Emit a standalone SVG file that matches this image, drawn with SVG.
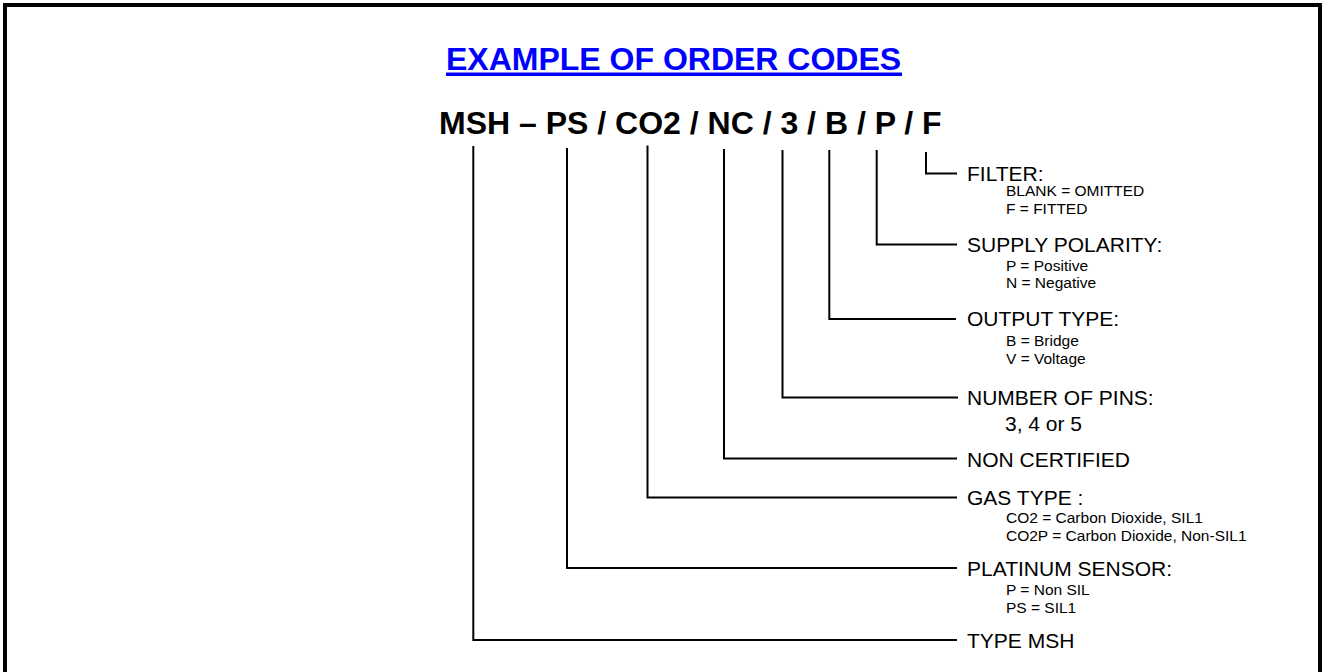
<svg xmlns="http://www.w3.org/2000/svg" width="1323" height="672" viewBox="0 0 1323 672">
<style>
text{font-family:"Liberation Sans",Arial,sans-serif;fill:#000}
.t{font-size:32px;font-weight:bold}
.title{fill:#0000FF}
.lbl{font-size:21px}
.sub{font-size:15.5px}
.big{font-size:21px}
.ln{fill:none;stroke:#000;stroke-width:2}
</style>
<rect x="0" y="0" width="1323" height="672" fill="#fff"/>
<path d="M5,690 V5 H1320 V690" fill="none" stroke="#000" stroke-width="4"/>
<g id="title">
<text class="t title" x="446" y="70">EXAMPLE OF ORDER CODES</text>
<rect x="446" y="72.5" width="456" height="3.5" fill="#0000FF"/>
</g>
<g id="code">
<text class="t" x="439" y="134">MSH – PS / CO2 / NC / 3 / B / P / F</text>
</g>
<g id="connectors">
<path class="ln" d="M926,152 V173.5 H957"/>
<path class="ln" d="M876.7,150 V244.5 H957"/>
<path class="ln" d="M829.3,150 V319 H956"/>
<path class="ln" d="M782.5,150 V397.5 H958"/>
<path class="ln" d="M724,149 V458.5 H957"/>
<path class="ln" d="M647.5,145.5 V497.5 H957"/>
<path class="ln" d="M567,148 V568 H957"/>
<path class="ln" d="M473.3,146 V640 H957"/>
</g>
<g id="filter">
<text class="lbl" x="967" y="181">FILTER:</text>
<text class="sub" x="1006" y="196">BLANK = OMITTED</text>
<text class="sub" x="1006" y="214">F = FITTED</text>
</g>
<g id="supply-polarity">
<text class="lbl" x="967" y="252">SUPPLY POLARITY:</text>
<text class="sub" x="1006" y="271">P = Positive</text>
<text class="sub" x="1006" y="288">N = Negative</text>
</g>
<g id="output-type">
<text class="lbl" x="967" y="326">OUTPUT TYPE:</text>
<text class="sub" x="1006" y="346">B = Bridge</text>
<text class="sub" x="1006" y="363.5">V = Voltage</text>
</g>
<g id="number-of-pins">
<text class="lbl" x="967" y="405">NUMBER OF PINS:</text>
<text class="big" x="1005" y="431">3, 4 or 5</text>
</g>
<g id="non-certified">
<text class="lbl" x="967" y="467">NON CERTIFIED</text>
</g>
<g id="gas-type">
<text class="lbl" x="967" y="504.5">GAS TYPE :</text>
<text class="sub" x="1006" y="523">CO2 = Carbon Dioxide, SIL1</text>
<text class="sub" x="1006" y="541">CO2P = Carbon Dioxide, Non-SIL1</text>
</g>
<g id="platinum-sensor">
<text class="lbl" x="967" y="575.5">PLATINUM SENSOR:</text>
<text class="sub" x="1006" y="594.5">P = Non SIL</text>
<text class="sub" x="1006" y="612.5">PS = SIL1</text>
</g>
<g id="type-msh">
<text class="lbl" x="967" y="647.5">TYPE MSH</text>
</g>
</svg>
